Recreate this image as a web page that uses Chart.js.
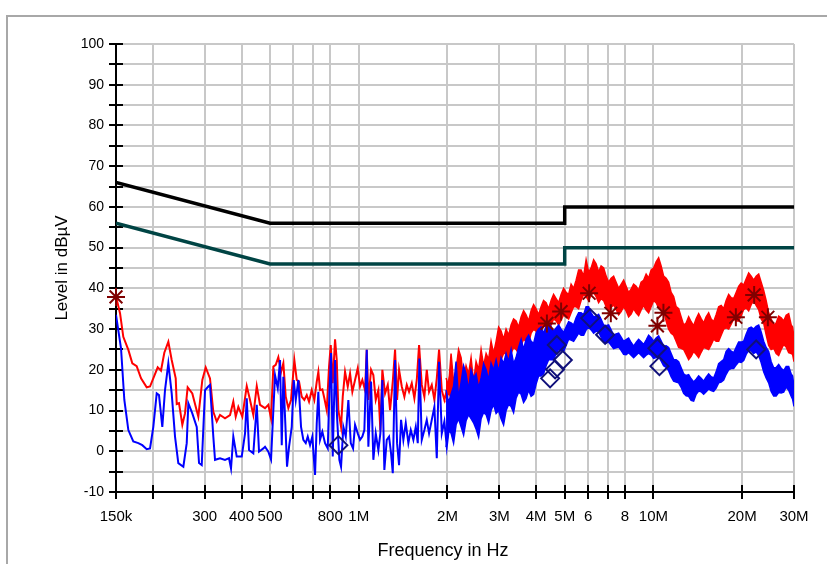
<!DOCTYPE html>
<html><head><meta charset="utf-8">
<script src="https://cdn.jsdelivr.net/npm/chart.js@4.4.1/dist/chart.umd.min.js"></script>
<style>html,body{margin:0;padding:0;background:#fff;overflow:hidden}</style>
</head><body>
<canvas id="c" width="827" height="564"></canvas>
<script>
// ---- tick definitions (frequencies in kHz) ----
const xTickValues = [150,200,300,400,500,600,700,800,1000,2000,3000,4000,5000,6000,7000,8000,10000,20000,30000];
const xTickLabels = ['150k','','300','400','500','','','800','1M','2M','3M','4M','5M','6','','8','10M','20M','30M'];
const xTitle = 'Frequency in Hz';
const yTitle = 'Level in dBµV';

// ---- limit lines ----
const qpLimitFreq  = [150, 500, 5000, 5000, 30000];
const qpLimitLevel = [66, 56, 56, 60, 60];
const avLimitFreq  = [150, 500, 5000, 5000, 30000];
const avLimitLevel = [56, 46, 46, 50, 50];

// ---- peak trace (red), sparse part ----
const peakFreq = [150,154.8,158.8,165.2,170.4,176.3,182.4,190.7,195.7,207.8,213.2,218.8,225.8,231.8,239.2,241.1,245.4,251.9,257.2,262.6,272.3,285.4,294.5,302.4,312.7,320.9,329.6,338.2,351.6,365.7,375.2,382.3,390.2,402.6,416.7,427.5,438.7,450.6,462.3,
480.7,493.3,503.8,513.0,522.6,533.4,544.8,554.7,565.1,576.8,589.0,604.5,616.0,627.0,640.4,653.6,666.0,678.0,692.5,706.8,720.1,729.2,738.9,752.3,764.2,778.6,792.7,803.4,816.0,830.8,842.0,852.6,870.7,882.4,898.3,917.5,934.2,951.1,971.4,992.1,1010.1,1028.4,1050.4,1064.4,1077.9,1100.8,1120.8,1142.0,1165.5,1183.8,1202.4,1228.1,1254.3,1277.1,1304.4,1328.0,1348.9,1370.1,1399.4,1428.2,1455.2,1481.5,1513.2,1544.3,1573.5,1602.0,1636.2,1669.8,1701.4,1732.2,1769.2,1805.6,1839.8,1873.1,1913.1,1952.4,1989.3,2025.3,2068.6];
const peakLevel = [38.0,33.9,28.1,24.9,21.6,20.9,17.9,15.7,15.9,20.6,19.8,24.2,26.9,22.4,17.9,11.6,11.8,6.5,9.3,15.7,14.2,8.5,17.5,20.6,17.9,9.7,7.3,8.9,8.1,8.9,12.2,8.5,10.9,8.5,16.0,12.6,8.9,16.0,11.4,
10.6,11.4,8.1,20.8,21.2,23.1,19.5,21.6,13.4,10.6,12.6,22.4,17.5,17.1,13.4,12.6,13.8,12.2,15.0,12.6,17.1,19.5,15.0,15.2,13.0,10.1,20.8,26.1,16.7,27.5,22.4,10.1,6.0,13.4,19.5,15.9,19.1,14.6,17.5,20.4,15.9,17.5,15.0,24.9,12.6,20.0,18.7,12.6,15.0,5.2,20.0,14.2,16.3,10.1,17.1,25.0,12.6,20.0,15.9,13.4,16.3,14.6,16.7,13.0,17.5,26.1,16.3,13.4,20.0,14.6,16.3,12.6,17.9,25.0,15.0,12.6,15.0,17.5,15.5];

// ---- average trace (blue), sparse part ----
const avgFreq = [150,156.0,160.1,165.2,171.7,178.6,184.2,190.7,195.7,200.8,206.2,209.9,215.4,220.0,225.8,231.8,237.9,244.1,253.9,260.7,264.0,272.3,281.9,287.0,293.1,300.8,308.6,312.7,320.9,325.2,338.2,351.6,362.8,368.5,375.2,385.3,400.7,411.2,416.7,424.2,438.7,450.6,458.7,474.4,
480.7,493.3,503.8,513.0,519.8,530.9,540.5,547.8,554.7,565.1,570.9,579.9,592.3,601.6,611.1,623.7,636.9,648.5,660.8,671.2,683.3,695.7,710.6,720.1,729.2,738.9,752.3,768.3,784.7,794.7,805.2,816.0,830.8,843.9,859.3,870.7,886.5,903.3,921.9,939.3,956.4,971.4,992.1,1010.1,1028.4,1044.7,1064.4,1077.9,1100.8,1120.8,1142.0,1165.5,1183.8,1202.4,1221.4,1244.5,1267.0,1287.1,1304.4,1328.0,1348.9,1370.1,1391.7,1417.0,1443.8,1473.5,1501.4,1532.3,1561.2,1585.8,1605.8,1636.2,1669.8,1701.4,1732.2,1769.2,1805.6,1839.8,1873.1,1913.1,1952.4,1989.3,2025.3,2068.6];
const avgLevel = [33.5,25.3,12.6,5.2,2.4,2.0,1.5,0.5,0.7,6.0,14.2,13.8,6.0,15.0,21.6,14.2,3.6,-2.9,-3.8,2.0,11.8,9.3,6.0,-2.9,-3.4,15.0,15.9,16.3,3.6,-2.1,-1.7,-2.1,-1.7,-4.2,3.6,-1.3,-1.3,4.4,13.0,0.3,-0.5,11.4,-0.1,0.7,
1.1,-0.1,-2.0,10.1,18.7,15.5,22.4,1.5,18.3,4.4,-3.8,1.1,6.0,17.5,12.6,17.5,6.0,2.8,2.0,3.6,1.5,3.6,-5.8,6.9,14.6,2.8,4.8,2.0,0.7,14.2,24.1,-1.3,22.4,8.5,-2.1,-3.8,6.0,3.6,12.6,2.0,0.7,6.5,4.4,2.8,3.6,5.2,24.9,1.1,17.1,-2.1,4.4,0.3,4.4,17.5,-4.6,2.8,3.6,-0.5,-5.4,22.4,2.0,-3.4,7.7,2.8,6.9,2.0,5.2,2.8,6.0,2.0,22.8,2.8,5.2,7.7,4.4,7.7,10.9,-1.7,22.0,4.4,7.3,1.1,6.0,4.4];

// ---- dense part (2 MHz - 30 MHz): edges of the noise bands ----
const bandFreq = [1978,2057,2139,2225,2313,2405,2501,2601,2705,2812,2925,3041,3162,3288,3419,3556,3697,3845,3998,4157,4323,4495,4675,4861,5055,5256,5466,5683,5910,6146,6390,6645,6910,7185,7472,7770,8079,8401,8736,9084,9447,9823,10214,10621,11045,11485,11943,12419,12914,13428,13964,14520,15099,15701,16327,16978,17654,18358,19090,19851,20642,21464,22320,23210,24135,25097,26097,27138,28219,29344,30000];
const bandFreqMid = [2018,2098,2181,2269,2359,2453,2551,2653,2759,2868,2983,3101,3225,3353,3487,3626,3770,3921,4077,4239,4409,4584,4768,4957,5155,5360,5574,5796,6027,6268,6517,6777,7047,7327,7620,7924,8239,8567,8909,9264,9634,10018,10416,10831,11264,11712,12180,12665,13170,13694,14241,14808,15398,16012,16650,17314,18004,18722,19468,20244,21051,21889,22762,23670,24613,25594,26614,27675,28778,29670];
const peakHi = [18,24,20,23,21,23,22,25,24,27,27,29.5,30,31,32,33,33.5,34.5,35,35.5,36.5,37,37.5,38.5,39,41,42,44.5,47,45,46,45.5,43,42.5,41.5,41,40.5,39.8,40.5,41.5,43.5,44.5,46.5,45.5,42.5,39,35.5,33,31.5,31.8,32.5,32.6,33,32.5,33.5,35.8,37,37.7,39,41.3,42.3,43,43,41.5,37,32.5,31.5,32.8,33.4,31,28];
const peakHiMid = [16,17,25,17.5,19,17,20,21,22.5,24,30.5,27.5,28.5,32.5,30.5,34.5,32,36,33.5,37,35,38.5,36.5,40,38.5,40,44.5,43,44,47,44,45,41.5,43,40,42,39,41,39.5,42,42.5,45,47.5,43,41.5,38,35,31,33,30.8,33.8,31.5,34,31.8,35.5,35,38.5,37.5,40.5,40.8,43.8,42,43.5,39.5,34,31,33.2,32,33.8,30.5];
const peakLo = [12,13,15,15.5,16,15,16.5,17,18,19.5,21,22.5,24,24,25,26,27,29,29.5,30,30.5,31,32,32.2,33,34,35.5,37,38,38.4,38,37.5,35.5,35.3,34.8,34.3,34.5,33.7,34,34.7,34.7,35.5,36.5,35,32,29,27,25.3,23.8,23.3,23.8,24.3,25.3,26.2,27,28.5,30.3,31.2,32,33.3,35.2,36,35.8,32.5,28.6,25,24,25,25.6,24,22];
const peakLoMid = [14.5,11.5,13.5,17,14,16.5,15,18.5,17,21,20.5,24,22.5,25.5,24,27.5,26.5,30,28.5,31.2,29.8,32.5,31,33.5,32.5,35.5,35,38.5,37,39,36.5,37,34.5,36,33.5,35.5,33,35,33.3,35.8,34,37,35.2,34.5,30,28.5,25.5,25,22.5,24.5,23,25.5,25,27.5,27,30,30,32.5,32,34.8,34.5,37,34.8,31.5,26,25.3,23.5,26.2,24.2,23.8];
const avgHi = [15,14,22,17,19,20,19,18,20,21.6,22.4,23,24,25,23,27.5,27.5,27,29,30.5,30.6,30.6,30.3,30,30.5,31.5,32.8,34,35.5,34,33.2,32.4,30.8,29.8,28.8,28,27.4,26.7,26.7,26.9,27.3,27.9,27.8,27.1,25.9,24,22.5,20.5,18.6,17.8,17.7,17.9,18.2,18.3,19.5,22,24.5,24.6,25.5,26.8,28.7,30.5,30.7,29.3,25.5,22,20.6,20.4,20.8,19,16];
const avgHiMid = [12,16,13,21,15,18,15.5,21.5,17.5,20,19.5,21.5,22,21.5,25.5,25,28.5,26.5,30,29,31.5,29.5,31,29.2,31.8,31,34,33.5,35.5,33,33.6,31,31,28.5,29,27,27.8,25.8,27.5,26.2,28.5,27,28.3,25.8,25.5,22.5,22,19,18.8,17,18.5,17.2,19,18,21.5,22.5,25.2,24.2,26.8,27,30.2,30,31,27,24.5,20.5,21.3,19.8,20.8,18.5];
const avgLo = [1,4.5,6.5,6,7.5,8,5.5,8,9,10,9.3,8,10,11,13,14,13,13.5,16.5,18.5,21,22.5,24,24.7,26,27.3,28,28.5,29.8,29.8,29.5,28,26.6,26,25.4,24.8,23.7,23.6,23.6,23.6,23.6,23.6,23,22.2,20.6,18.3,17,15.7,13.6,12.5,14,14.6,14.6,14.9,15.5,17,18.9,20.3,21.2,21.8,23.8,24.7,24.4,21.8,18,14.7,13.6,14.3,15.8,13.5,11];
const avgLoMid = [5,2,8,4,9,7,3.5,9.5,7,11.5,10,6.5,11.5,9.5,14.5,12,15,14,18.5,19,22.5,22.5,25,24.5,27.5,27,29,28.5,30.5,29,29.3,26.8,26.8,25.2,25.6,23.8,24.2,23,24.2,23,24,22.8,23.2,21,19.8,17.2,16.8,14.2,13.5,12.3,14.8,14,15.3,14.7,16.8,17.5,20,20.3,22,22.3,24.8,24,23.5,19.5,16.8,13.6,14.4,14.5,15,12.8];

// ---- final (QP / AV) measurement markers ----
const qpMarkFreq  = [150,4350,4861,6050,7168,10318,10814,19045,21973,24458];
const qpMarkLevel = [37.9,31.4,34.3,38.8,33.9,30.8,34.0,32.9,38.4,32.9];
const avMarkFreq  = [852.6,4460,4638,4700,4926,6098,6856,10318,10482,22320];
const avMarkLevel = [1.5,17.9,20.1,26.1,22.4,32.7,28.6,25.3,20.9,25.0];

const pts = (xs, ys) => xs.map((x, i) => ({x: x, y: ys[i]}));
const edge = (main, mid) => {
  const out = [];
  for (let i = 0; i < bandFreq.length; i++) {
    out.push({x: bandFreq[i], y: main[i]});
    if (i < bandFreqMid.length) out.push({x: bandFreqMid[i], y: mid[i]});
  }
  return out;
};
const FONT = "'Liberation Sans', Arial, Helvetica, sans-serif";
Chart.defaults.font.family = FONT;

const frame = {
  id: 'frame',
  beforeDraw(chart) {
    const ctx = chart.ctx;
    ctx.save();
    ctx.fillStyle = '#fff';
    ctx.fillRect(0, 0, chart.width, chart.height);
    ctx.strokeStyle = '#a8a8a8';
    ctx.lineWidth = 2;
    ctx.beginPath();
    ctx.moveTo(7, chart.height);
    ctx.lineTo(7, 16);
    ctx.lineTo(chart.width, 16);
    ctx.stroke();
    ctx.restore();
  },
  afterDraw(chart) {
    const ctx = chart.ctx;
    ctx.save();
    ctx.fillStyle = '#000';
    ctx.font = "18px " + FONT;
    ctx.textAlign = 'center';
    ctx.textBaseline = 'middle';
    ctx.fillText(xTitle, 443, 551);
    ctx.restore();
  }
};
const tickMarks = {
  id: 'tickMarks',
  beforeDatasetsDraw(chart) {
    const {ctx, chartArea: a, scales: {x, y}} = chart;
    ctx.save();
    ctx.strokeStyle = '#000';
    ctx.lineWidth = 2;
    ctx.beginPath();
    y.ticks.forEach(t => { const p = Math.round(y.getPixelForValue(t.value)); ctx.moveTo(a.left - 7, p); ctx.lineTo(a.left + 7, p); });
    x.ticks.forEach(t => { const p = Math.round(x.getPixelForValue(t.value)); ctx.moveTo(p, a.bottom - 7); ctx.lineTo(p, a.bottom + 7); });
    ctx.stroke();
    ctx.restore();
  }
};

new Chart(document.getElementById('c'), {
  type: 'line',
  data: {
    datasets: [
      { label: 'QP', data: pts(qpMarkFreq, qpMarkLevel), showLine: false, pointStyle: 'star', pointRadius: 9, pointBorderWidth: 2, borderColor: '#800000', backgroundColor: '#800000', order: 0, clip: false },
      { label: 'AV', data: pts(avMarkFreq, avMarkLevel), showLine: false, pointStyle: 'rectRot', pointRadius: 9, pointBorderWidth: 2, borderColor: '#10107a', backgroundColor: 'rgba(0,0,0,0)', order: 0, clip: false },
      { label: 'QP limit', data: pts(qpLimitFreq, qpLimitLevel), borderColor: '#000', borderWidth: 3.5, pointRadius: 0, order: 1 },
      { label: 'AV limit', data: pts(avLimitFreq, avLimitLevel), borderColor: '#004444', borderWidth: 3.5, pointRadius: 0, order: 1 },
      { label: 'avg', data: pts(avgFreq, avgLevel), borderColor: '#0000ff', borderWidth: 2, pointRadius: 0, order: 2 },
      { label: 'avgLo', data: edge(avgLo, avgLoMid), borderColor: '#0000ff', borderWidth: 1.5, pointRadius: 0, order: 2 },
      { label: 'avgHi', data: edge(avgHi, avgHiMid), borderColor: '#0000ff', borderWidth: 1.5, pointRadius: 0, order: 2, fill: '-1', backgroundColor: '#0000ff' },
      { label: 'peak', data: pts(peakFreq, peakLevel), borderColor: '#ff0000', borderWidth: 2, pointRadius: 0, order: 3 },
      { label: 'peakLo', data: edge(peakLo, peakLoMid), borderColor: '#ff0000', borderWidth: 1.5, pointRadius: 0, order: 3 },
      { label: 'peakHi', data: edge(peakHi, peakHiMid), borderColor: '#ff0000', borderWidth: 1.5, pointRadius: 0, order: 3, fill: '-1', backgroundColor: '#ff0000' }
    ]
  },
  options: {
    responsive: false,
    animation: false,
    events: [],
    layout: { padding: { left: 0, top: 44, right: 33, bottom: 0 } },
    plugins: { legend: { display: false }, tooltip: { enabled: false } },
    elements: { line: { tension: 0 } },
    scales: {
      x: {
        type: 'logarithmic', min: 150, max: 30000, position: 'bottom',
        afterBuildTicks: s => { s.ticks = xTickValues.map(v => ({ value: v })); },
        afterFit: s => { s.height = 72; },
        ticks: { autoSkip: false, maxRotation: 0, minRotation: 0, padding: 16, color: '#000', font: { size: 15 },
                 callback: (v, i) => xTickLabels[i] },
        grid: { color: '#c8c8c8', lineWidth: 2, drawTicks: false },
        border: { color: '#000', width: 2 },
        title: { display: false }
      },
      y: {
        type: 'linear', min: -10, max: 100,
        afterFit: s => { s.width = 116; },
        ticks: { stepSize: 5, autoSkip: false, padding: 12, color: '#000', font: { size: 14 },
                 callback: v => (v % 10 === 0 ? String(v) : '') },
        grid: { color: '#c8c8c8', lineWidth: 2, drawTicks: false },
        border: { color: '#000', width: 2 },
        title: { display: true, text: yTitle, color: '#000', font: { size: 17 }, padding: { top: 52, bottom: 0 } }
      }
    }
  },
  plugins: [frame, tickMarks]
});
</script>
</body></html>
